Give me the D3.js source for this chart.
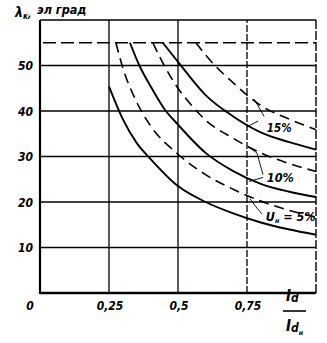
<!DOCTYPE html>
<html>
<head>
<meta charset="utf-8">
<script src="https://cdn.jsdelivr.net/npm/d3@7"></script>
<style>
  body { margin: 0; background: #fff; }
  svg text { font-family: "Liberation Sans Narrow", "DejaVu Sans Condensed", "Liberation Sans", sans-serif; font-style: italic; font-weight: bold; fill: #000; }
</style>
</head>
<body>
<svg id="chart"></svg>
<script>
const width = 327, height = 343;

// значения
const xTicks = [0.25, 0.5, 0.75];
const yTicks = [10, 20, 30, 40, 50];
const limitLevel = 55;

const uk5Solid   = [[0.25,45.4],[0.3,38.2],[0.35,33],[0.4,29.5],[0.5,23.5],[0.6,20],[0.7,17.5],[0.8,15.5],[0.9,14],[1.0,12.8]];
const uk5Dashed  = [[0.275,55],[0.3,49.5],[0.35,42],[0.4,36.8],[0.5,30.5],[0.6,26],[0.7,22.8],[0.8,20.2],[0.9,18.2],[1.0,16.7]];
const uk10Solid  = [[0.326,55],[0.36,50],[0.4,45.5],[0.45,40.5],[0.5,37],[0.6,30.8],[0.7,26.8],[0.8,24],[0.9,22.3],[1.0,21.1]];
const uk10Dashed = [[0.409,55],[0.45,50],[0.5,45],[0.55,41.2],[0.6,38],[0.7,34],[0.8,30.8],[0.9,28.5],[1.0,26.7]];
const uk15Solid  = [[0.445,55],[0.5,50.8],[0.6,43.5],[0.7,38.8],[0.8,35.3],[0.9,33.2],[1.0,31.5]];
const uk15Dashed = [[0.565,55],[0.6,52.3],[0.65,49],[0.7,46.2],[0.75,43.5],[0.8,41.2],[0.9,38.3],[1.0,35.9]];

const svg = d3.select("#chart")
    .attr("width", width)
    .attr("height", height);

const x = d3.scaleLinear().domain([0, 1]).range([40, 316]);
const y = d3.scaleLinear().domain([0, 60]).range([293, 20]);

// сетка
svg.selectAll("line.hgrid")
    .data(yTicks)
    .join("line")
    .attr("x1", x(0)).attr("x2", x(1))
    .attr("y1", d => y(d)).attr("y2", d => y(d))
    .attr("stroke", "#000").attr("stroke-width", 1.6);

svg.selectAll("line.vgrid")
    .data(xTicks)
    .join("line")
    .attr("x1", d => x(d)).attr("x2", d => x(d))
    .attr("y1", y(0)).attr("y2", y(60))
    .attr("stroke", "#000").attr("stroke-width", 1.3)
    .attr("stroke-dasharray", d => d === 0.75 ? "7,2" : null);

// рамка
svg.append("line").attr("x1", x(0)).attr("x2", x(1)).attr("y1", y(60)).attr("y2", y(60))
    .attr("stroke", "#000").attr("stroke-width", 1.6);
svg.append("line").attr("x1", x(1)).attr("x2", x(1)).attr("y1", y(0)).attr("y2", y(60))
    .attr("stroke", "#000").attr("stroke-width", 1.4).attr("stroke-dasharray", "9,2");
svg.append("line").attr("x1", x(0)).attr("x2", x(0)).attr("y1", y(0) + 1).attr("y2", y(60))
    .attr("stroke", "#000").attr("stroke-width", 2.2);
svg.append("line").attr("x1", x(0)).attr("x2", x(1)).attr("y1", y(0)).attr("y2", y(0))
    .attr("stroke", "#000").attr("stroke-width", 2.4);

// предельный уровень 55
svg.append("line")
    .attr("x1", x(0) + 3).attr("x2", x(1))
    .attr("y1", y(limitLevel)).attr("y2", y(limitLevel))
    .attr("stroke", "#000").attr("stroke-width", 1.5)
    .attr("stroke-dasharray", "13,5");

// кривые
const line = d3.line()
    .x(d => x(d[0]))
    .y(d => y(d[1]))
    .curve(d3.curveMonotoneX);

const curves = [
    { data: uk5Solid, dashed: false },
    { data: uk10Solid, dashed: false },
    { data: uk15Solid, dashed: false },
    { data: uk5Dashed, dashed: true },
    { data: uk10Dashed, dashed: true },
    { data: uk15Dashed, dashed: true }
];

svg.selectAll("path.curve")
    .data(curves)
    .join("path")
    .attr("class", "curve")
    .attr("d", d => line(d.data))
    .attr("fill", "none")
    .attr("stroke", "#000")
    .attr("stroke-width", d => d.dashed ? 1.6 : 1.9)
    .attr("stroke-dasharray", d => d.dashed ? "10,6" : null);

// подписи осей
svg.selectAll("text.ytick")
    .data(yTicks)
    .join("text")
    .attr("x", 33).attr("y", d => y(d) + 4.5)
    .attr("text-anchor", "end")
    .attr("font-size", 12)
    .text(d => d);

svg.selectAll("text.xtick")
    .data(xTicks)
    .join("text")
    .attr("x", d => x(d) + 1).attr("y", 310)
    .attr("text-anchor", "middle")
    .attr("font-size", 12)
    .text(d => String(d).replace(".", ","));

svg.append("text").attr("x", 30).attr("y", 310).attr("text-anchor", "middle")
    .attr("font-size", 12).text("0");

// λк, эл град
const yTitle = svg.append("text").attr("x", 15).attr("y", 17).attr("font-size", 14);
yTitle.append("tspan").text("λ");
yTitle.append("tspan").attr("font-size", 8).attr("dy", 2).text("к");
yTitle.append("tspan").attr("font-size", 10).attr("dy", -2).text(",");
svg.append("text").attr("x", 37).attr("y", 14).attr("font-size", 12.5)
    .attr("font-weight", "normal").text("эл град");

// Id / Idн
const num = svg.append("text").attr("x", 286).attr("y", 301).attr("font-size", 15);
num.append("tspan").text("I");
num.append("tspan").attr("font-size", 12).attr("dy", 1).text("d");
svg.append("line").attr("x1", 283).attr("x2", 306).attr("y1", 311).attr("y2", 311)
    .attr("stroke", "#000").attr("stroke-width", 1.6);
const den = svg.append("text").attr("x", 286).attr("y", 331).attr("font-size", 15);
den.append("tspan").text("I");
den.append("tspan").attr("font-size", 12).attr("dy", 1).text("d");
den.append("tspan").attr("font-size", 7).attr("dy", 3).text("н");

// метки семейств кривых с выносками
const leader = d3.line().x(d => x(d[0])).y(d => y(d[1]));
const leaders = [
    [[0.790, 37.8], [0.750, 36.5]],
    [[0.812, 38.8], [0.776, 42.6]],
    [[0.808, 26.0], [0.786, 30.8], [0.757, 32.0]],
    [[0.808, 25.4], [0.757, 24.5]],
    [[0.804, 17.4], [0.783, 18.9], [0.761, 20.7]]
];
svg.selectAll("path.leader")
    .data(leaders)
    .join("path")
    .attr("d", d => leader(d))
    .attr("fill", "none")
    .attr("stroke", "#000")
    .attr("stroke-width", 0.9);

svg.append("text").attr("x", x(0.822)).attr("y", y(35.3)).attr("font-size", 11.5).text("15%");
svg.append("text").attr("x", x(0.822)).attr("y", y(24.5)).attr("font-size", 12.5).text("10%");
const u = svg.append("text").attr("x", x(0.818)).attr("y", y(15.8)).attr("font-size", 12.5);
u.append("tspan").text("U");
u.append("tspan").attr("font-size", 7).attr("dy", 2).text("н");
u.append("tspan").attr("dy", -2).text(" = 5%");
</script>
</body>
</html>
